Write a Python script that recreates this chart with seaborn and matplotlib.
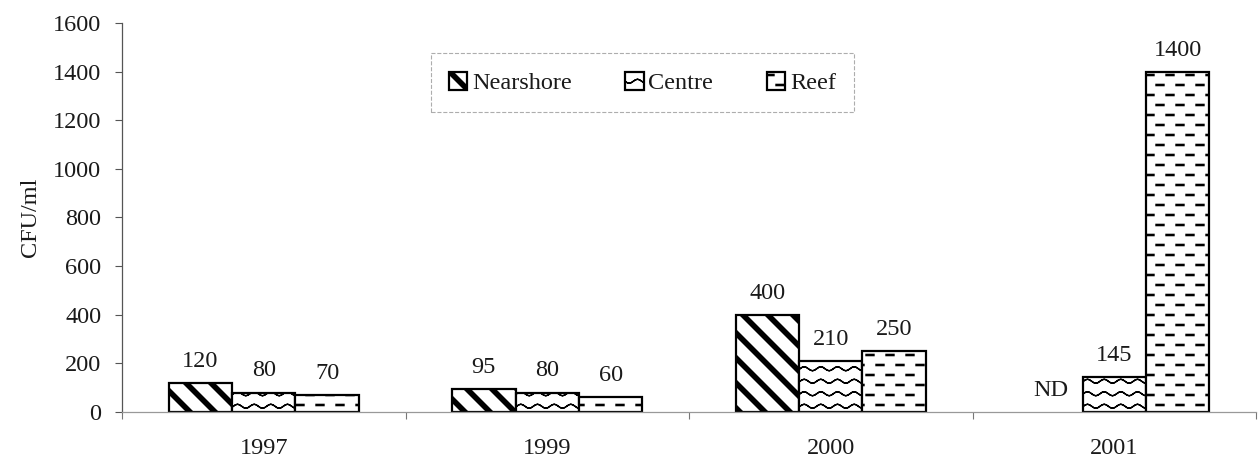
import matplotlib
matplotlib.use("Agg")
import matplotlib.hatch as mhatch
import matplotlib.patches as mpatches
import matplotlib.pyplot as plt
import numpy as np
import pandas as pd
import seaborn as sns
from matplotlib.path import Path

# data
years = ["1997", "1999", "2000", "2001"]
sites = ["Nearshore", "Centre", "Reef"]
nearshore = [120, 95, 400, np.nan]   # 2001: not determined (ND)
centre = [80, 80, 210, 145]
reef = [70, 60, 250, 1400]
yticks = [0, 200, 400, 600, 800, 1000, 1200, 1400, 1600]


class Stripes(mhatch.HatchPatternBase):
    """Thick '\\' stripes, drawn as filled parallelograms."""

    def __init__(self, hatch, density):
        self.num_lines = 4 * hatch.count("\\")
        self.count = 2 * self.num_lines + 2 if self.num_lines else 0
        self.num_vertices = self.count * 5

    def set_vertices_and_codes(self, vertices, codes):
        w = 0.06
        for i in range(self.count):
            c = (i - 1) / self.num_lines
            vertices[i * 5:i * 5 + 5] = [(-1, c + 1), (3, c - 3), (3 + w, c - 3),
                                         (-1 + w, c + 1), (-1, c + 1)]
            codes[i * 5:i * 5 + 5] = [Path.MOVETO, Path.LINETO, Path.LINETO,
                                      Path.LINETO, Path.CLOSEPOLY]


class Dashes(mhatch.HatchPatternBase):
    """Rows of short dashes, every other row shifted."""
    rows, per_row = 10, 7

    def __init__(self, hatch, density):
        self.num_vertices = self.rows * self.per_row * 5 if "-" in hatch else 0

    def set_vertices_and_codes(self, vertices, codes):
        length, h, period = 0.08, 0.012, 0.2
        i = 0
        for r in range(self.rows):
            y = (r + 0.5) / self.rows
            shift = 0.06 if r % 2 == 0 else 0.16
            for k in range(-1, self.per_row - 1):
                x0 = shift + k * period
                vertices[i:i + 5] = [(x0, y - h / 2), (x0 + length, y - h / 2),
                                     (x0 + length, y + h / 2), (x0, y + h / 2),
                                     (x0, y - h / 2)]
                codes[i:i + 5] = [Path.MOVETO, Path.LINETO, Path.LINETO,
                                  Path.LINETO, Path.CLOSEPOLY]
                i += 5


class Waves(mhatch.HatchPatternBase):
    """Wavy lines (path goes forward and back so agg's fill adds nothing)."""
    rows, npts = 8, 49

    def __init__(self, hatch, density):
        self.num_vertices = self.rows * self.npts * 2 if "o" in hatch else 0

    def set_vertices_and_codes(self, vertices, codes):
        x = np.linspace(0, 1, self.npts)
        n = 2 * self.npts
        for r in range(self.rows):
            y = (r + 0.5) / self.rows + 0.02 * np.sin(2 * np.pi * 6 * x)
            seg = np.column_stack([x, y])
            vertices[r * n:(r + 1) * n] = np.vstack([seg, seg[::-1]])
            codes[r * n] = Path.MOVETO
            codes[r * n + 1:(r + 1) * n] = Path.LINETO


types = mhatch._hatch_types
types[types.index(mhatch.HorizontalHatch)] = Dashes
types[types.index(mhatch.SouthEastHatch)] = Stripes
types[types.index(mhatch.SmallCircles)] = Waves

hatches = ["\\", "o", "-"]

sns.set_style("white")
plt.rcParams["font.family"] = ["Liberation Serif", "DejaVu Serif"]
plt.rcParams["hatch.linewidth"] = 1.0
plt.rcParams["hatch.color"] = "black"
text_color = "#1a1a1a"
fs = 17.5

df = pd.DataFrame({
    "Year": years * 3,
    "Site": np.repeat(sites, len(years)),
    "CFU": nearshore + centre + reef,
})
df["height"] = df["CFU"].fillna(0)

fig = plt.figure(figsize=(12.6, 4.68), dpi=100)
ax = fig.add_axes([122 / 1260, 1 - 412 / 468, 1134 / 1260, 389 / 468])

sns.barplot(data=df, x="Year", y="height", hue="Site", hue_order=sites,
            palette=["white"] * 3, saturation=1, edgecolor="black",
            linewidth=1.6, width=0.67, errorbar=None, legend=False, ax=ax)

for container, hatch, site in zip(ax.containers, hatches, sites):
    vals = df.loc[df["Site"] == site, "CFU"].tolist()
    labels = []
    for bar, v in zip(container, vals):
        bar.set_hatch(hatch)
        if np.isnan(v):
            bar.set_linewidth(0)
            labels.append("ND")
        else:
            labels.append(f"{v:.0f}")
    ax.bar_label(container, labels=labels, padding=8, fontsize=fs,
                 color=text_color)

ax.set_xlim(-0.5, 3.5)
ax.set_ylim(0, 1600)
ax.set_yticks(yticks)
ax.set_xticks(range(len(years)))
ax.set_xticks(np.arange(-0.5, len(years)), minor=True)
ax.set_xlabel("")
ax.set_ylabel("CFU/ml", fontsize=fs, color=text_color, va="center")
ax.yaxis.set_label_coords(-0.081, 0.5)

ax.tick_params(axis="x", which="major", length=0, pad=19, labelsize=fs,
               labelcolor=text_color)
ax.tick_params(axis="x", which="minor", length=5, width=0.8, color="#777",
               direction="out", bottom=True)
ax.tick_params(axis="y", length=5, width=0.8, color="#555", direction="out",
               left=True, pad=10, labelsize=fs, labelcolor=text_color)

sns.despine(ax=ax)
ax.spines["left"].set_color("#555")
ax.spines["bottom"].set_color("#999")
ax.spines["left"].set_linewidth(0.9)
ax.spines["bottom"].set_linewidth(0.9)

handles = [mpatches.Patch(facecolor="white", edgecolor="black", linewidth=1.6,
                          hatch=h, label=s) for h, s in zip(hatches, sites)]
leg = ax.legend(handles=handles, loc="center", bbox_to_anchor=(0.459, 0.846),
                ncol=3, frameon=True, fancybox=False, fontsize=fs,
                handlelength=0.75, handleheight=0.75, handletextpad=0.2,
                columnspacing=2.2, borderpad=0.75, labelcolor=text_color)
frame = leg.get_frame()
frame.set_edgecolor("#999")
frame.set_linestyle("--")
frame.set_linewidth(0.8)

fig.savefig("out.png", dpi=100, facecolor="white")
